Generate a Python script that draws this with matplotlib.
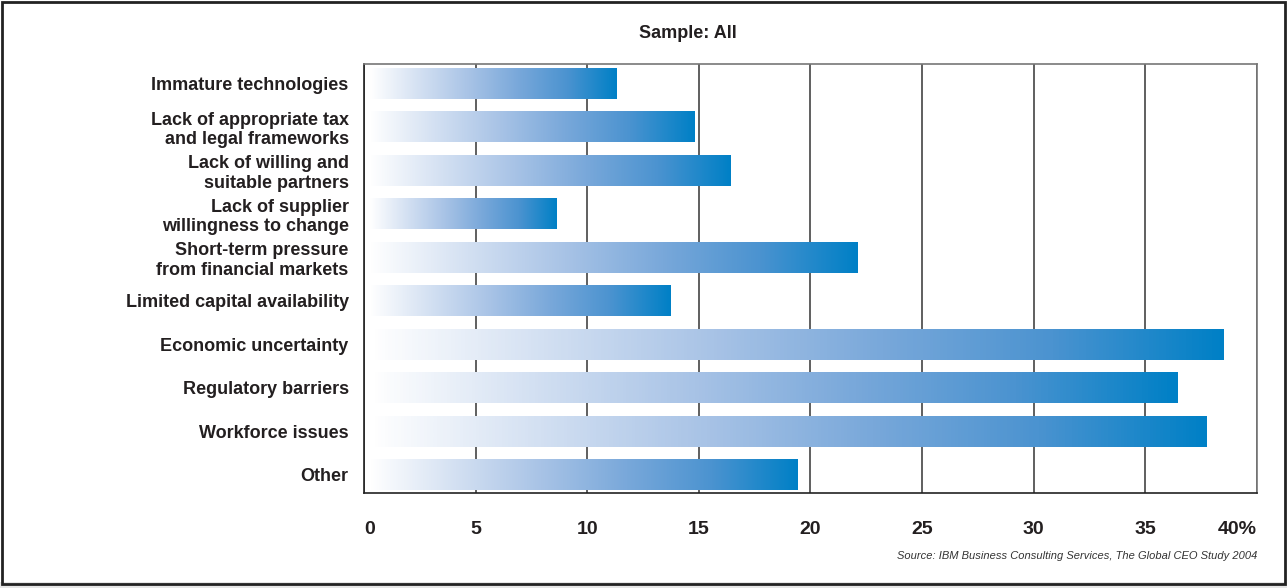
import matplotlib
matplotlib.use("Agg")
import matplotlib.pyplot as plt
import numpy as np
from matplotlib.colors import LinearSegmentedColormap
from matplotlib.patches import Rectangle
from matplotlib import font_manager

categories = [
    "Immature technologies",
    "Lack of appropriate tax\nand legal frameworks",
    "Lack of willing and\nsuitable partners",
    "Lack of supplier\nwillingness to change",
    "Short-term pressure\nfrom financial markets",
    "Limited capital availability",
    "Economic uncertainty",
    "Regulatory barriers",
    "Workforce issues",
    "Other",
]
values = [11.3, 14.8, 16.4, 8.6, 22.1, 13.7, 38.5, 36.4, 37.7, 19.4]
xticks = [0, 5, 10, 15, 20, 25, 30, 35, 40]
xticklabels = ["0", "5", "10", "15", "20", "25", "30", "35", "40%"]
title = "Sample: All"
source = "Source: IBM Business Consulting Services, The Global CEO Study 2004"

names = {f.name for f in font_manager.fontManager.ttflist}
fam = "Liberation Sans Narrow" if "Liberation Sans Narrow" in names else "Liberation Sans"
plt.rcParams["font.family"] = [fam, "DejaVu Sans"]
plt.rcParams["text.color"] = "#231f20"
plt.rcParams["xtick.color"] = "#231f20"
plt.rcParams["ytick.color"] = "#231f20"

W, H = 1287, 588
fig = plt.figure(figsize=(W / 100, H / 100), dpi=100)
ax = fig.add_axes([364 / W, 1 - 493 / H, (1257 - 364) / W, (493 - 64) / H])

cmap = LinearSegmentedColormap.from_list(
    "ibm", ["#ffffff", "#d3e0f2", "#a8c3e6", "#79a8da", "#4b93d0", "#0080c6"])
grad = np.linspace(0, 1, 256).reshape(1, -1)

n = len(categories)
ys = np.arange(n)
bh = 0.71
for y, v in zip(ys, values):
    ax.imshow(grad, cmap=cmap, aspect="auto", interpolation="bilinear",
              extent=(0.25, v, y + bh / 2, y - bh / 2), zorder=3)

ax.set_xlim(0, 40)
ax.set_ylim(n - 1 + 0.42, -0.44)
ax.set_xticks(xticks)
ax.set_xticklabels(xticklabels, fontsize=14, fontweight="bold")
labs = ax.get_xticklabels()
labs[0].set_ha("left")
labs[-1].set_ha("right")
ax.tick_params(axis="x", length=0, pad=20.5)
ax.set_yticks(ys)
ax.set_yticklabels(categories, fontsize=13, fontweight="bold", linespacing=1.2)
ax.tick_params(axis="y", length=0, pad=11)
for t in ax.get_yticklabels():
    t.set_ha("right")
    t.set_multialignment("right")

ax.grid(axis="x", color="#444444", linewidth=1.2, zorder=0)
ax.set_axisbelow(True)
ax.spines["left"].set_color("#222222")
ax.spines["bottom"].set_color("#222222")
ax.spines["top"].set_color("#777777")
ax.spines["right"].set_color("#777777")
for s in ax.spines.values():
    s.set_linewidth(1.2)

fig.text(688 / W, 1 - 33 / H, title, fontsize=13, fontweight="bold",
         ha="center", va="center")
fig.text(1257 / W, 1 - 556 / H, source, fontsize=8, style="italic",
         color="#333333", ha="right", va="center")

fig.patches.append(Rectangle((0, 0), 1, 6 / H, transform=fig.transFigure,
                             facecolor="#e6e6e6", edgecolor="none", zorder=0))
fig.patches.append(Rectangle((2 / W, 4 / H), (W - 4) / W, (H - 6) / H,
                             transform=fig.transFigure, facecolor="none",
                             edgecolor="#222222", linewidth=2.0))

fig.savefig("out.png", dpi=100)
